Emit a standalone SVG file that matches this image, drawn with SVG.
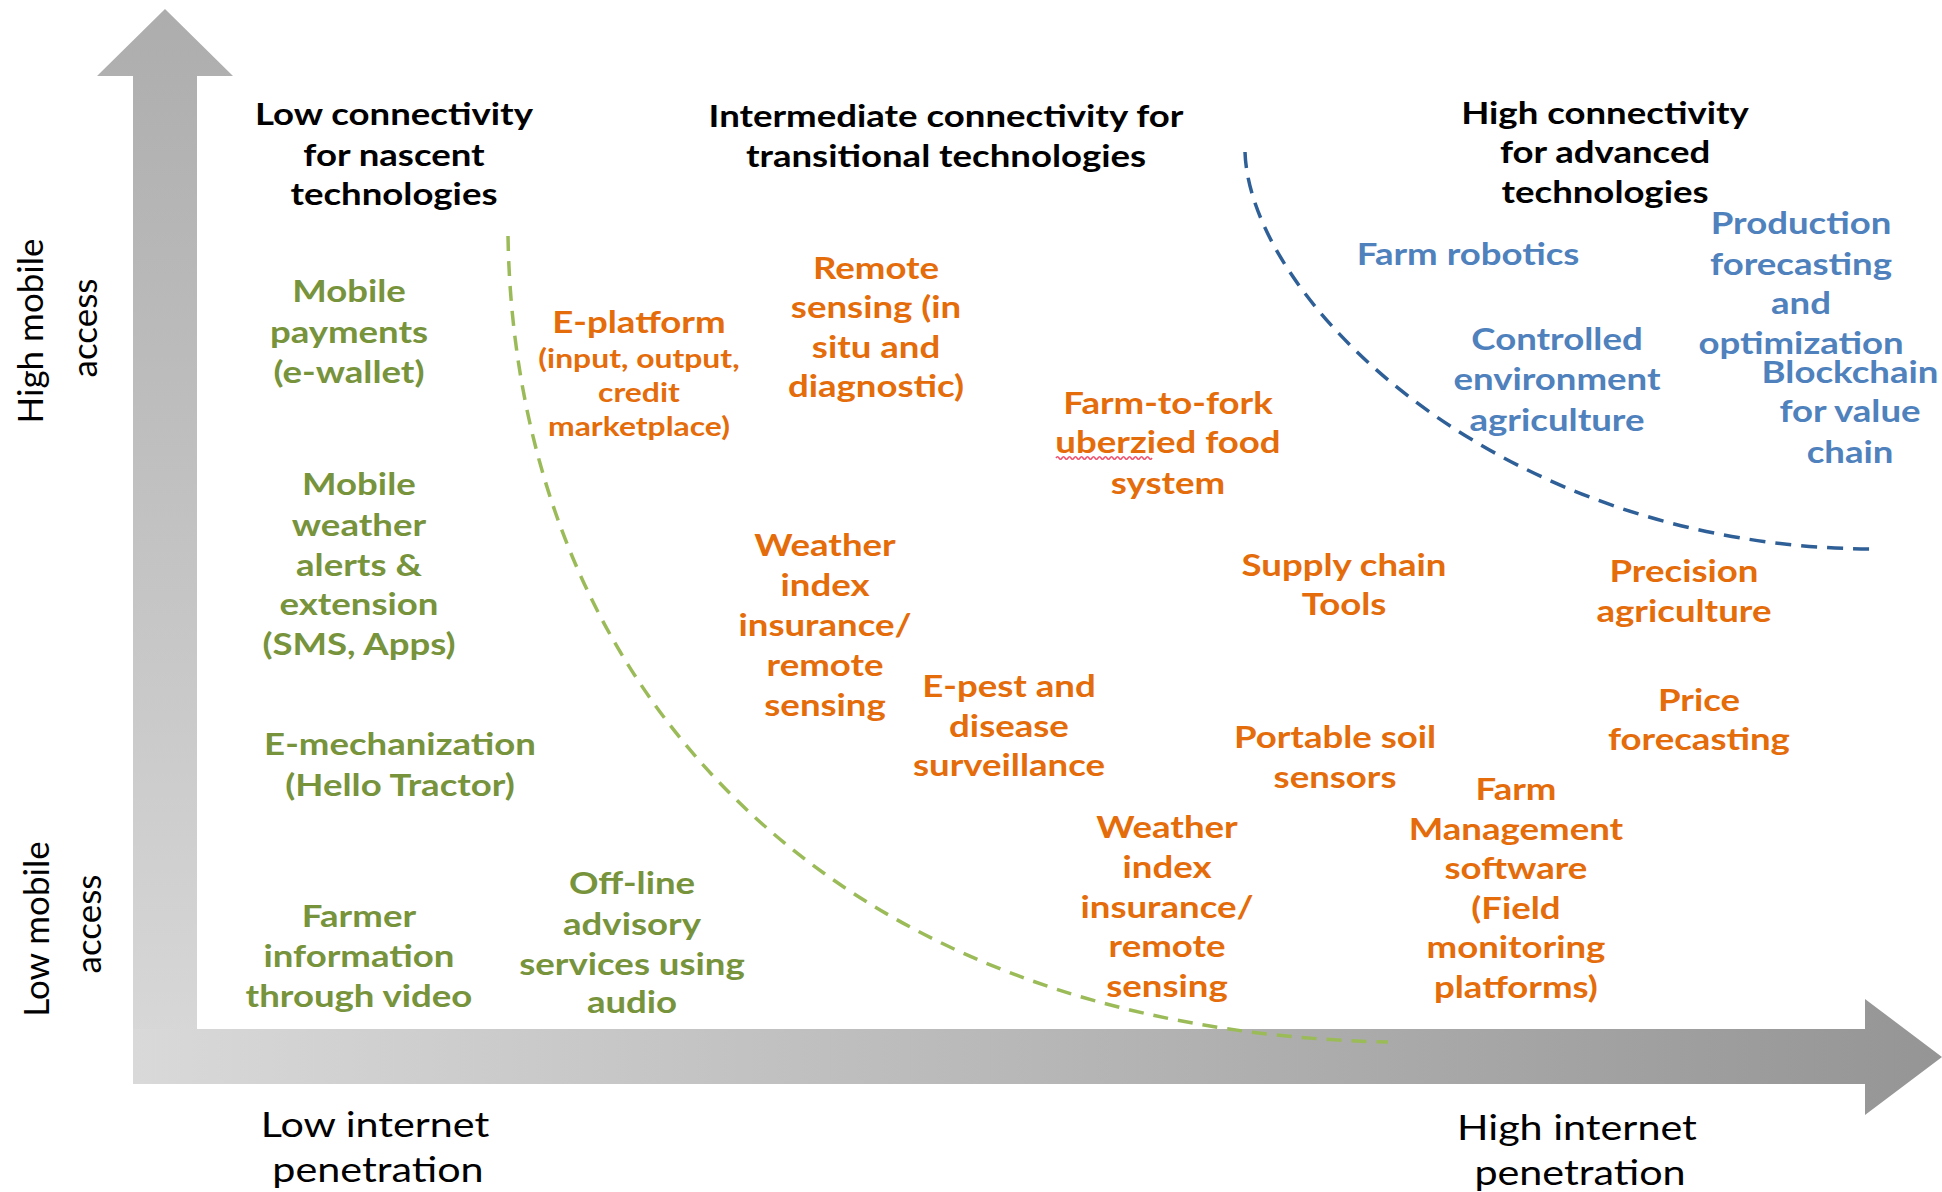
<svg xmlns="http://www.w3.org/2000/svg" width="1942" height="1192" viewBox="0 0 1942 1192">
<defs>
<linearGradient id="gv" x1="0" y1="0" x2="0" y2="1">
<stop offset="0" stop-color="#adadad"/>
<stop offset="1" stop-color="#d9d9d9"/>
</linearGradient>
<linearGradient id="gh" x1="0" y1="0" x2="1" y2="0">
<stop offset="0" stop-color="#d9d9d9"/>
<stop offset="1" stop-color="#959595"/>
</linearGradient>
</defs>
<style>
text{font-family:Lato,"Open Sans","Liberation Sans",sans-serif;text-anchor:middle}
.h{fill:#000;font-weight:bold;font-size:31px}
.ax{fill:#000;font-weight:normal;font-size:35px}
.g{fill:#77933C;font-weight:bold;font-size:31px}
.o{fill:#E46C0A;font-weight:bold;font-size:31px}
.os{fill:#E46C0A;font-weight:bold;font-size:27px}
.b{fill:#4F81BD;font-weight:bold;font-size:31px}
.dash-g{fill:none;stroke:#9BBB59;stroke-width:3.5;stroke-dasharray:15 10}
.dash-b{fill:none;stroke:#2F5F97;stroke-width:3.5;stroke-dasharray:16 10}
</style>
<rect width="1942" height="1192" fill="#fff"/>
<g id="axes">
<polygon id="axis-y" points="165,9 233,76 197,76 197,1084 133,1084 133,76 97,76" fill="url(#gv)"/>
<polygon id="axis-x" points="133,1029 1865,1029 1865,999 1942,1057 1865,1115 1865,1084 133,1084" fill="url(#gh)"/>
</g>
<g id="connectors">
<path id="boundary-low" class="dash-g" d="M508,236 C515,680 820,1030 1388,1042"/>
<path id="boundary-high" class="dash-b" d="M1245,152 C1250,300 1500,549 1876,549"/>
</g>
<g id="axis-labels-vertical">
<g transform="translate(31,331) rotate(-90)"><text class="ax" x="0" y="12">High mobile</text></g>
<g transform="translate(85,328) rotate(-90)"><text class="ax" x="0" y="12">access</text></g>
<g transform="translate(37,929) rotate(-90)"><text class="ax" x="0" y="12">Low mobile</text></g>
<g transform="translate(89,924) rotate(-90)"><text class="ax" x="0" y="12">access</text></g>
</g>
<path id="spell-squiggle" d="M1056 458q1.5-2.5 3 0t3 0t3 0t3 0t3 0t3 0t3 0t3 0t3 0t3 0t3 0t3 0t3 0t3 0t3 0t3 0t3 0t3 0t3 0t3 0t3 0t3 0t3 0t3 0t3 0t3 0t3 0t3 0t3 0t3 0t3 0t3 0" fill="none" stroke="#f0506e" stroke-width="1.5"/>
<g id="labels" transform="scale(1.18,1)">
<g id="axis-labels-horizontal">
<text class="ax" x="317.8" y="1137">Low internet</text>
<text class="ax" x="320.3" y="1182">penetration</text>
<text class="ax" x="1336.4" y="1140">High internet</text>
<text class="ax" x="1339" y="1185">penetration</text>
</g>
<g id="header-low"><text class="h" x="333.9" y="125">Low connectivity</text><text class="h" x="333.9" y="166">for nascent</text><text class="h" x="333.9" y="205">technologies</text></g>
<g id="header-mid"><text class="h" x="801.7" y="127">Intermediate connectivity for</text><text class="h" x="801.7" y="167">transitional technologies</text></g>
<g id="header-high"><text class="h" x="1360.2" y="124">High connectivity</text><text class="h" x="1360.2" y="163">for advanced</text><text class="h" x="1360.2" y="203">technologies</text></g>

<g id="mobile-payments"><text class="g" x="295.8" y="302">Mobile</text><text class="g" x="295.8" y="343">payments</text><text class="g" x="295.8" y="383">(e-wallet)</text></g>
<g id="mobile-weather"><text class="g" x="304.2" y="495">Mobile</text><text class="g" x="304.2" y="536">weather</text><text class="g" x="304.2" y="576">alerts &amp;</text><text class="g" x="304.2" y="615">extension</text><text class="g" x="304.2" y="655">(SMS, Apps)</text></g>
<g id="e-mechanization"><text class="g" x="339" y="755">E-mechanization</text><text class="g" x="339" y="796">(Hello Tractor)</text></g>
<g id="farmer-video"><text class="g" x="304.2" y="927">Farmer</text><text class="g" x="304.2" y="967">information</text><text class="g" x="304.2" y="1007">through video</text></g>
<g id="offline-audio"><text class="g" x="535.6" y="894">Off-line</text><text class="g" x="535.6" y="935">advisory</text><text class="g" x="535.6" y="975">services using</text><text class="g" x="535.6" y="1013">audio</text></g>

<g id="e-platform"><text class="o" x="541.5" y="333">E-platform</text><text class="os" x="541.5" y="368">(input, output,</text><text class="os" x="541.5" y="402">credit</text><text class="os" x="541.5" y="436">marketplace)</text></g>
<g id="remote-sensing"><text class="o" x="742.4" y="279">Remote</text><text class="o" x="742.4" y="318">sensing (in</text><text class="o" x="742.4" y="358">situ and</text><text class="o" x="742.4" y="397">diagnostic)</text></g>
<g id="farm-to-fork"><text class="o" x="989.8" y="414">Farm-to-fork</text><text class="o" x="989.8" y="453">uberzied food</text><text class="o" x="989.8" y="494">system</text></g>
<g id="weather-index-1"><text class="o" x="699.2" y="556">Weather</text><text class="o" x="699.2" y="596">index</text><text class="o" x="699.2" y="636">insurance/</text><text class="o" x="699.2" y="676">remote</text><text class="o" x="699.2" y="716">sensing</text></g>
<g id="e-pest"><text class="o" x="855.1" y="697">E-pest and</text><text class="o" x="855.1" y="737">disease</text><text class="o" x="855.1" y="776">surveillance</text></g>
<g id="supply-chain"><text class="o" x="1139" y="576">Supply chain</text><text class="o" x="1139" y="615">Tools</text></g>
<g id="precision-agriculture"><text class="o" x="1427.1" y="582">Precision</text><text class="o" x="1427.1" y="622">agriculture</text></g>
<g id="price-forecasting"><text class="o" x="1439.8" y="711">Price</text><text class="o" x="1439.8" y="750">forecasting</text></g>
<g id="portable-soil"><text class="o" x="1131.4" y="748">Portable soil</text><text class="o" x="1131.4" y="788">sensors</text></g>
<g id="farm-management"><text class="o" x="1284.7" y="800">Farm</text><text class="o" x="1284.7" y="840">Management</text><text class="o" x="1284.7" y="879">software</text><text class="o" x="1284.7" y="919">(Field</text><text class="o" x="1284.7" y="958">monitoring</text><text class="o" x="1284.7" y="998">platforms)</text></g>
<g id="weather-index-2"><text class="o" x="989" y="838">Weather</text><text class="o" x="989" y="878">index</text><text class="o" x="989" y="918">insurance/</text><text class="o" x="989" y="957">remote</text><text class="o" x="989" y="997">sensing</text></g>

<g id="farm-robotics"><text class="b" x="1244.1" y="265">Farm robotics</text></g>
<g id="production-forecasting"><text class="b" x="1526.3" y="234">Production</text><text class="b" x="1526.3" y="275">forecasting</text><text class="b" x="1526.3" y="314">and</text><text class="b" x="1526.3" y="354">optimization</text></g>
<g id="controlled-environment"><text class="b" x="1319.5" y="350">Controlled</text><text class="b" x="1319.5" y="390">environment</text><text class="b" x="1319.5" y="431">agriculture</text></g>
<g id="blockchain"><text class="b" x="1567.8" y="383">Blockchain</text><text class="b" x="1567.8" y="422">for value</text><text class="b" x="1567.8" y="463">chain</text></g>
</g>
</svg>
